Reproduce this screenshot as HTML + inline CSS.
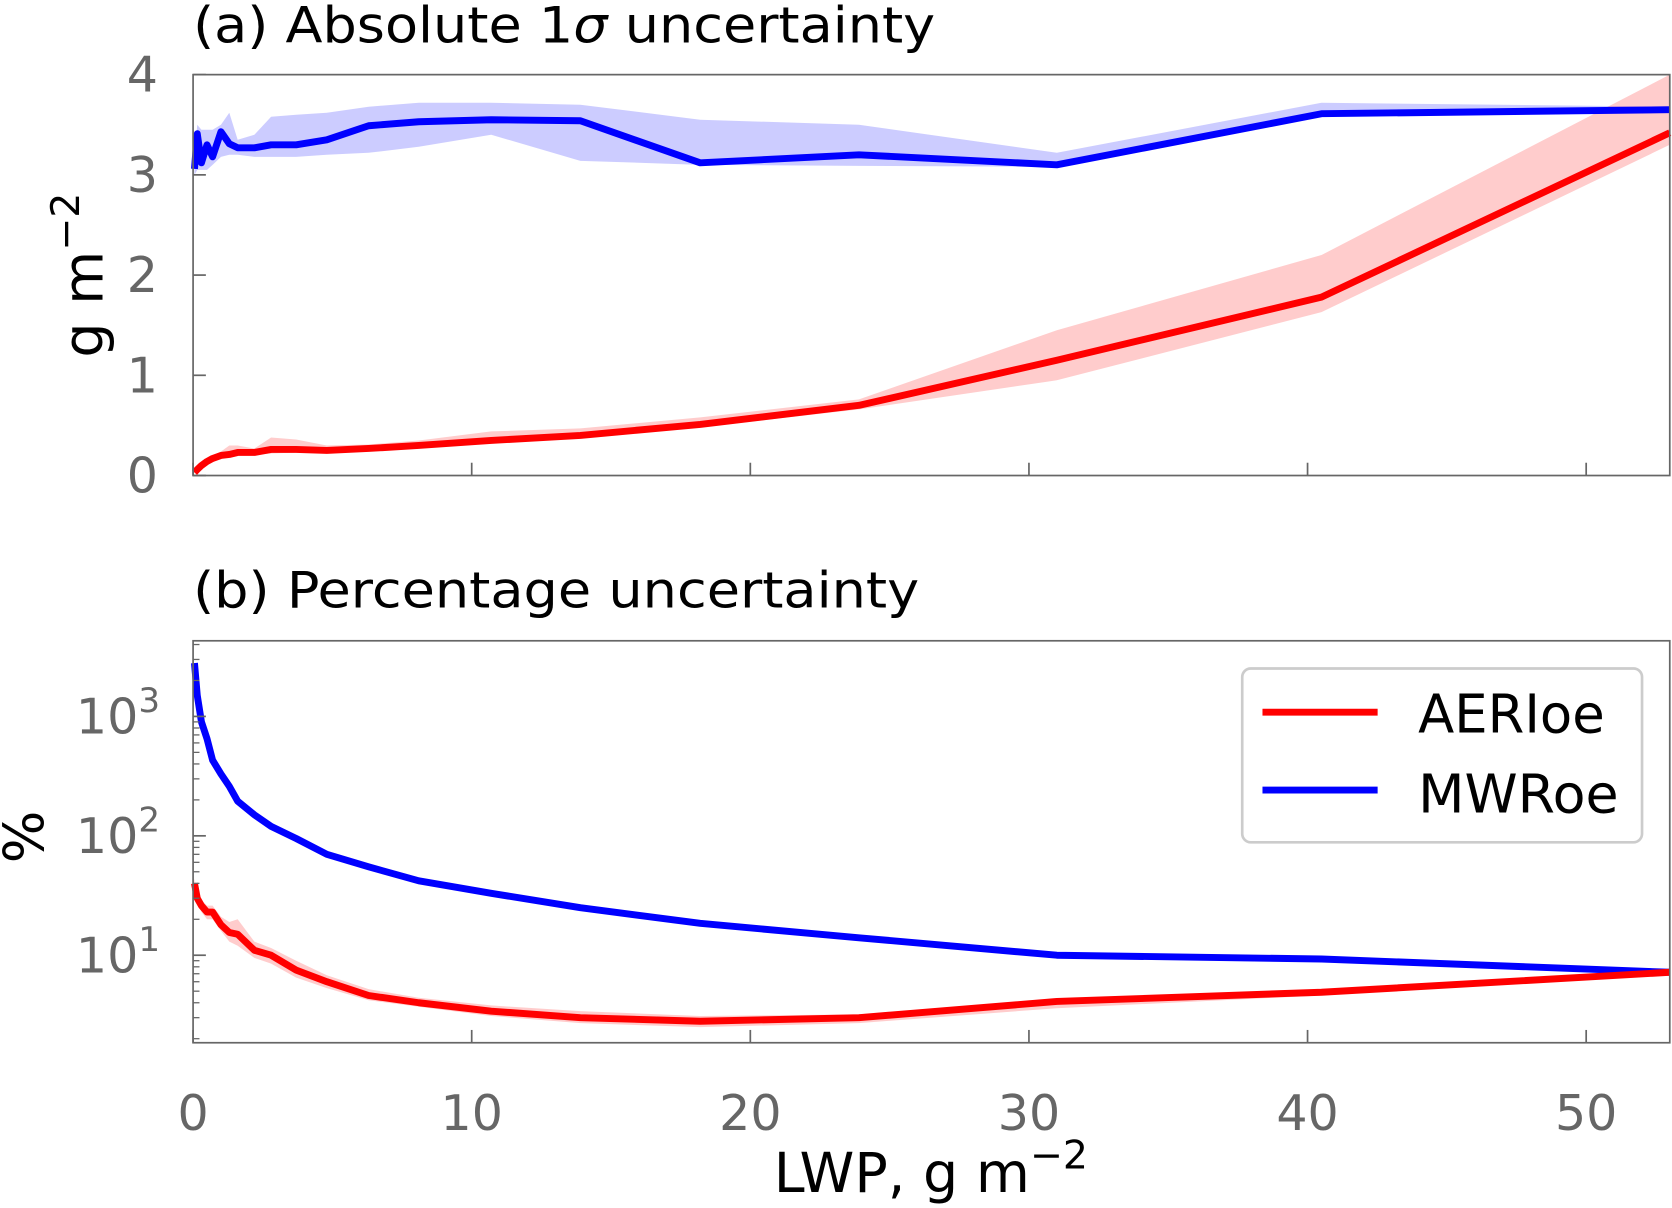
<!DOCTYPE html>
<html><head><meta charset="utf-8"><style>
html,body{margin:0;padding:0;background:#fff;}
svg{display:block;font-family:"DejaVu Sans","Liberation Sans",sans-serif;}
</style></head><body>
<svg id="c" width="1672" height="1208" viewBox="0 0 1568 1133" xmlns="http://www.w3.org/2000/svg"></svg>
<script>
const lwp=[0.05,0.15,0.3,0.5,0.7,1.0,1.3,1.6,2.2,2.8,3.7,4.8,6.3,8.1,10.7,13.9,18.2,23.9,31.0,40.5,53.0];
const mwrAbs=[3.06,3.41,3.12,3.3,3.18,3.43,3.31,3.27,3.27,3.30,3.30,3.35,3.49,3.53,3.55,3.54,3.12,3.20,3.10,3.61,3.65];
const mwrAbsHi=[3.2,3.5,3.45,3.45,3.45,3.5,3.62,3.35,3.4,3.58,3.6,3.62,3.68,3.72,3.72,3.7,3.55,3.5,3.22,3.72,3.68];
const mwrAbsLo=[3.0,3.05,3.05,3.05,3.1,3.18,3.2,3.2,3.18,3.18,3.18,3.2,3.22,3.28,3.40,3.14,3.1,3.09,3.08,3.6,3.62];
const aerAbs=[0.03,0.06,0.1,0.14,0.17,0.2,0.21,0.23,0.23,0.26,0.26,0.25,0.27,0.30,0.35,0.40,0.51,0.70,1.15,1.78,3.42];
const aerAbsHi=[0.04,0.08,0.12,0.17,0.2,0.24,0.3,0.3,0.27,0.38,0.36,0.3,0.31,0.35,0.44,0.47,0.58,0.76,1.45,2.2,4.0];
const aerAbsLo=[0.02,0.05,0.09,0.12,0.15,0.18,0.19,0.2,0.21,0.22,0.23,0.22,0.25,0.28,0.32,0.37,0.48,0.66,0.95,1.63,3.3];
const mwrPct=[2800,1500,900,650,430,330,260,195,150,120,95,70,55,42,33,25,18.5,14,10,9.3,7.2];
const aerPct=[40,30,26,23,23,18,15.5,15,11,10,7.5,6,4.6,4.0,3.4,3.0,2.8,3.0,4.1,4.9,7.2];
const aerPctHi=[44,33,29,26,26,21,19,20,13,11.5,9,6.8,5.2,4.4,3.8,3.4,3.1,3.2,4.3,5.2,7.4];
const aerPctLo=[36,27,23,20,20,16,13,12,9.5,8.5,6.5,5.3,4.2,3.7,3.1,2.7,2.5,2.7,3.6,4.6,7.0];
const xTicks=[0,10,20,30,40,50];
const yTicksA=[0,1,2,3,4];
const yTicksB=[1,2,3];

const svg=document.getElementById('c');
const NS='http://www.w3.org/2000/svg';
function el(tag,attrs,parent){const e=document.createElementNS(NS,tag);for(const k in attrs)e.setAttribute(k,attrs[k]);(parent||svg).appendChild(e);return e;}
const L=181,R=1566;
const xs=v=>L+(v-0)/53*(R-L);
const A={top:70,bot:446};
const ysA=v=>A.bot-(v/4)*(A.bot-A.top);
const B={top:601,bot:978};
const lmin=Math.log10(1.85),lmax=Math.log10(4300);
const ysB=v=>B.bot-(Math.log10(v)-lmin)/(lmax-lmin)*(B.bot-B.top);
const gray='#666';

function band(lo,hi,ys,color,name){
  let d='M'+lwp.map((x,i)=>xs(x)+','+ys(hi[i])).join('L');
  for(let i=lwp.length-1;i>=0;i--)d+='L'+xs(lwp[i])+','+ys(lo[i]);
  const p=el('path',{d:d+'Z',fill:color,opacity:0.2});
  
  
}
function line(vals,ys,color,name){
  const p=el('polyline',{points:lwp.map((x,i)=>xs(x)+','+ys(vals[i])).join(' '),fill:'none',stroke:color,'stroke-width':6.5,'stroke-linejoin':'round'});
  
  
}
function text(x,y,s,attrs,name){const t=el('text',Object.assign({x:x,y:y},attrs));t.textContent=s;return t;}

// Panel A
band(mwrAbsLo,mwrAbsHi,ysA,'#0000ff','mwroe-abs-band');
band(aerAbsLo,aerAbsHi,ysA,'#ff0000','aerioe-abs-band');
line(mwrAbs,ysA,'#0000ff','mwroe-abs-line');
line(aerAbs,ysA,'#ff0000','aerioe-abs-line');
const fa=el('rect',{x:L,y:A.top,width:R-L,height:A.bot-A.top,fill:'none',stroke:gray,'stroke-width':1.6});


xTicks.forEach(t=>{el('line',{x1:xs(t),x2:xs(t),y1:A.bot,y2:A.bot-12,stroke:gray,'stroke-width':1.6});});
yTicksA.forEach(t=>{el('line',{x1:L,x2:L+12,y1:ysA(t),y2:ysA(t),stroke:gray,'stroke-width':1.6});
  text(148,ysA(t)+16,String(t),{'font-size':46,fill:gray,'text-anchor':'end'},'y-tick-label-a');});
const ta=text(181,40,'(a) Absolute 1',{'font-size':47,fill:'#000'},'panel-a-title');
const sg=el('tspan',{'font-style':'italic'},ta);sg.textContent='σ';
const rest=el('tspan',{},ta);rest.textContent=' uncertainty';
ta.setAttribute('textLength',696);ta.setAttribute('lengthAdjust','spacingAndGlyphs');
const yl=text(0,0,'g m',{'font-size':52,fill:'#000','text-anchor':'middle',transform:'translate(96,258) rotate(-90)'},'y-axis-title-a');
const sup=el('tspan',{dy:-22,'font-size':37});sup.textContent='−2';yl.appendChild(sup);

// Panel B
band(aerPctLo,aerPctHi,ysB,'#ff0000','aerioe-pct-band');
line(mwrPct,ysB,'#0000ff','mwroe-pct-line');
line(aerPct,ysB,'#ff0000','aerioe-pct-line');
const fb=el('rect',{x:L,y:B.top,width:R-L,height:B.bot-B.top,fill:'none',stroke:gray,'stroke-width':1.6});


xTicks.forEach(t=>{el('line',{x1:xs(t),x2:xs(t),y1:B.bot,y2:B.bot-12,stroke:gray,'stroke-width':1.6});
  text(xs(t),1060,String(t),{'font-size':46,fill:gray,'text-anchor':'middle'},'x-tick-label');});
for(let e=0;e<=3;e++)for(let m=1;m<10;m++){const v=m*Math.pow(10,e);if(v<1.85||v>4300)continue;
  const y=ysB(v);el('line',{x1:L,x2:L+(m===1?12:6),y1:y,y2:y,stroke:gray,'stroke-width':m===1?1.6:1.2});}
yTicksB.forEach(e=>{const t=text(150,ysB(Math.pow(10,e))+16,'10',{'font-size':46,fill:gray,'text-anchor':'end'},'y-tick-label-b');
  const s=el('tspan',{dy:-20,'font-size':32});s.textContent=String(e);t.appendChild(s);});
text(181,570,'(b) Percentage uncertainty',{'font-size':47,fill:'#000',textLength:681,lengthAdjust:'spacingAndGlyphs'},'panel-b-title');
text(0,0,'%',{'font-size':52,fill:'#000','text-anchor':'middle',transform:'translate(40,785) rotate(-90)'},'y-axis-title-b');
const xl=text(873,1118,'LWP, g m',{'font-size':52,fill:'#000','text-anchor':'middle'},'x-axis-title');
const s2=el('tspan',{dy:-22,'font-size':37});s2.textContent='−2';xl.appendChild(s2);

// Legend
const lg=el('rect',{x:1165,y:627,width:375,height:163,rx:8,fill:'#fff',stroke:'#ccc','stroke-width':2.5});


el('line',{x1:1184,x2:1292,y1:668,y2:668,stroke:'#ff0000','stroke-width':6.5});
text(1330,687,'AERIoe',{'font-size':50,fill:'#000',textLength:175,lengthAdjust:'spacingAndGlyphs'},'legend-entry-aerioe');
el('line',{x1:1184,x2:1292,y1:741,y2:741,stroke:'#0000ff','stroke-width':6.5});
text(1330,762,'MWRoe',{'font-size':50,fill:'#000',textLength:188,lengthAdjust:'spacingAndGlyphs'},'legend-entry-mwroe');
</script>
</body></html>
